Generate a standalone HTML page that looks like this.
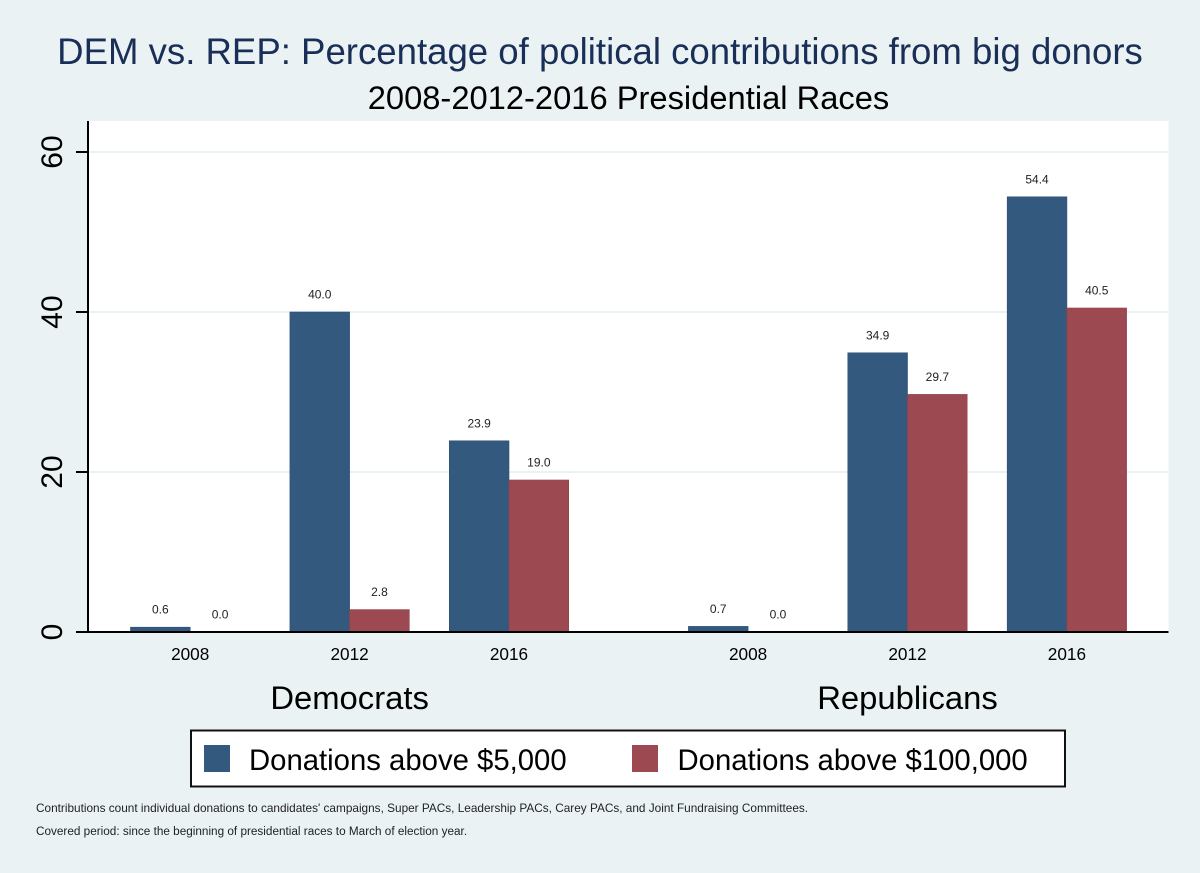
<!DOCTYPE html>
<html lang="en">
<head>
<meta charset="utf-8">
<title>DEM vs. REP big donors</title>
<style>
html,body{margin:0;padding:0;background:#eaf2f3;}
svg{display:block;font-family:"Liberation Sans",Arial,sans-serif;}
</style>
</head>
<body>
<svg id="chart" xmlns="http://www.w3.org/2000/svg" width="1200" height="873" viewBox="0 0 1200 873">
  <rect x="0" y="0" width="1200" height="873" fill="#eaf2f3"/>
  <text x="600" y="64" text-anchor="middle" font-size="36.6" fill="#1a2f57">DEM vs. REP: Percentage of political contributions from big donors</text>
  <text x="628.5" y="109" text-anchor="middle" font-size="32.7" fill="#000">2008-2012-2016 Presidential Races</text>
  <rect x="88" y="121" width="1080.5" height="511" fill="#fff"/>
  <g id="grid"></g>
  <g id="bars"></g>
  <g id="labels"></g>
  <g id="xticks"></g>
  <line x1="88" y1="121" x2="88" y2="633" stroke="#000" stroke-width="2"/>
  <line x1="88" y1="632" x2="1168.5" y2="632" stroke="#000" stroke-width="2"/>
  <g id="yticks"></g>
  <g id="groups"></g>
  <rect x="191" y="730.5" width="874" height="56" fill="#fff" stroke="#111" stroke-width="2"/>
  <rect x="204" y="745" width="26" height="27" fill="#34597f"/>
  <text x="249" y="770" font-size="29.3" fill="#000">Donations above $5,000</text>
  <rect x="632" y="745" width="26" height="27" fill="#9c4951"/>
  <text x="677.5" y="770" font-size="29.3" fill="#000">Donations above $100,000</text>
  <text x="36" y="812" font-size="11.8" fill="#222">Contributions count individual donations to candidates' campaigns, Super PACs, Leadership PACs, Carey PACs, and Joint Fundraising Committees.</text>
  <text x="36" y="835" font-size="11.75" fill="#222">Covered period: since the beginning of presidential races to March of election year.</text>
</svg>
<script>
const parties = ["Democrats", "Republicans"];
const years = ["2008", "2012", "2016"];
const above5000 = [[0.6, 40.0, 23.9], [0.7, 34.9, 54.4]];
const above100000 = [[0.0, 2.8, 19.0], [0.0, 29.7, 40.5]];
const yTicks = [0, 20, 40, 60];

const NS = "http://www.w3.org/2000/svg";
const yScale = v => 632 - v * 8;
const slot = 159.4;
const groupGap = 0.5;
const xScale = (p, i) => 190.2 + slot * (p * (years.length + groupGap) + i);
const barW = 59.7;

function make(tag, parentId, attrs, text) {
  const el = document.createElementNS(NS, tag);
  for (const k in attrs) el.setAttribute(k, attrs[k]);
  if (text !== undefined) el.textContent = text;
  document.getElementById(parentId).appendChild(el);
  return el;
}

yTicks.forEach(t => {
  const y = yScale(t);
  if (t !== 0) {
    const g = make("line", "grid", {x1: 88, x2: 1168.5, y1: y, y2: y, stroke: "#eaf2f3", "stroke-width": 2});
    
    
  }
  const m = make("line", "yticks", {x1: 76, x2: 88, y1: y, y2: y, stroke: "#000", "stroke-width": 2});
  
  
  const l = make("text", "yticks", {x: 0, y: 0, "text-anchor": "middle", "font-size": 30, fill: "#000",
    transform: "translate(62 " + y + ") rotate(-90)"}, String(t));
  
  
});

function drawBar(p, i, value, offset, fill, stroke) {
  const cx = xScale(p, i) + offset;
  const top = yScale(value);
  const b = make("rect", "bars", {x: cx - barW / 2, y: top, width: barW, height: 632 - top, fill: fill, stroke: stroke, "stroke-width": 0.6});
  
  
  const t = make("text", "labels", {x: cx, y: top - 13.5, "text-anchor": "middle", "font-size": 12, fill: "#222"}, value.toFixed(1));
  
  
}

parties.forEach((party, p) => {
  years.forEach((year, i) => {
    drawBar(p, i, above5000[p][i], -barW / 2, "#34597f", "#2c4f74");
    drawBar(p, i, above100000[p][i], barW / 2, "#9c4951", "#94434b");
    const x = make("text", "xticks", {x: xScale(p, i), y: 660, "text-anchor": "middle", "font-size": 17.2, fill: "#000"}, year);
    
    
  });
  const g = make("text", "groups", {x: xScale(p, 1), y: 709, "text-anchor": "middle", "font-size": 32.8, fill: "#000"}, party);
  
  
});
</script>
</body>
</html>
